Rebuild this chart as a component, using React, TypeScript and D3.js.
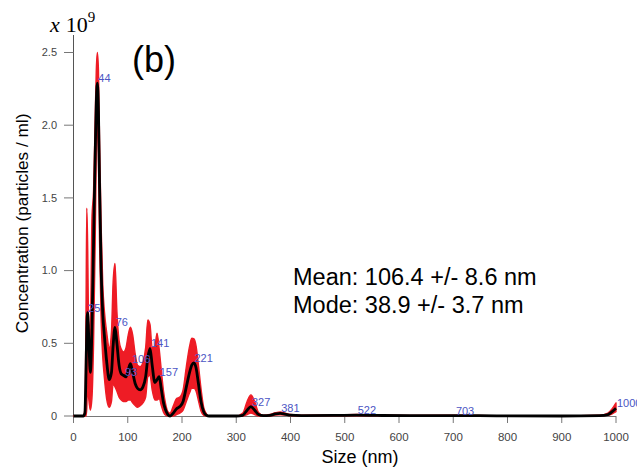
import React from "react";
import * as d3 from "d3";

const sizes = [0, 18, 21, 23, 24.5, 26, 28, 31, 34, 37, 40, 42, 44, 46, 48, 51, 54, 57, 61, 66, 70, 73, 76.5, 80, 84, 88, 92, 96.8, 101, 105, 109, 114, 118, 123, 128, 133, 137, 141, 145, 150, 154, 158, 162, 166, 170, 174, 178, 184, 190, 196, 202, 208, 214, 218, 222, 226, 230, 235, 240, 245, 250, 300, 312, 320, 327, 334, 341, 350, 362, 372, 381, 390, 400, 420, 480, 522, 560, 620, 703, 780, 900, 970, 985, 993, 1000];

const meanValues = [0, 0, 0.02, 0.3, 0.6, 0.71, 0.55, 0.3, 0.6, 1.2, 1.8, 2.15, 2.29, 2.1, 1.6, 1.0, 0.7, 0.55, 0.38, 0.25, 0.3, 0.48, 0.61, 0.5, 0.35, 0.29, 0.28, 0.27, 0.32, 0.36, 0.3, 0.22, 0.19, 0.18, 0.2, 0.27, 0.4, 0.465, 0.35, 0.23, 0.25, 0.27, 0.18, 0.09, 0.04, 0.01, 0.0, 0.02, 0.05, 0.065, 0.1, 0.2, 0.3, 0.35, 0.365, 0.33, 0.23, 0.1, 0.03, 0.005, 0, 0, 0.005, 0.04, 0.065, 0.04, 0.01, 0.002, 0.005, 0.014, 0.018, 0.013, 0.006, 0.003, 0.004, 0.006, 0.004, 0.002, 0.003, 0.001, 0, 0.003, 0.01, 0.03, 0.053];

const upperValues = [0, 0, 0.05, 0.7, 1.43, 1.2, 0.65, 0.6, 1.36, 1.55, 2.05, 2.38, 2.5, 2.38, 1.9, 1.3, 0.9, 0.72, 0.58, 0.47, 0.58, 0.92, 1.05, 0.72, 0.52, 0.46, 0.44, 0.47, 0.56, 0.61, 0.56, 0.42, 0.35, 0.34, 0.37, 0.47, 0.66, 0.63, 0.47, 0.48, 0.57, 0.46, 0.31, 0.17, 0.08, 0.03, 0.02, 0.07, 0.12, 0.13, 0.18, 0.34, 0.48, 0.535, 0.53, 0.48, 0.36, 0.19, 0.06, 0.015, 0, 0, 0.02, 0.1, 0.145, 0.1, 0.025, 0.005, 0.01, 0.022, 0.028, 0.02, 0.01, 0.005, 0.007, 0.01, 0.007, 0.004, 0.005, 0.002, 0.001, 0.005, 0.02, 0.05, 0.09];

const lowerValues = [0, 0, 0, 0, 0.05, 0.22, 0.12, 0.04, 0.12, 0.5, 1.2, 1.8, 2.05, 1.75, 1.2, 0.65, 0.4, 0.26, 0.12, 0.06, 0.1, 0.22, 0.2, 0.17, 0.13, 0.11, 0.1, 0.1, 0.11, 0.11, 0.09, 0.07, 0.06, 0.07, 0.09, 0.13, 0.27, 0.28, 0.18, 0.11, 0.11, 0.12, 0.07, 0.025, 0.005, 0, 0, 0, 0.01, 0.02, 0.04, 0.1, 0.16, 0.19, 0.19, 0.17, 0.11, 0.035, 0.005, 0, 0, 0, 0, 0.01, 0.02, 0.01, 0, 0, 0, 0.006, 0.008, 0.006, 0.002, 0.001, 0.001, 0.002, 0.001, 0, 0.001, 0, 0, 0.001, 0.004, 0.015, 0.03];

const peakSizes = [25, 44, 76, 93, 106, 141, 157, 221, 327, 381, 522, 703, 1000];
const peakValues = [0.71, 2.29, 0.61, 0.27, 0.36, 0.465, 0.27, 0.365, 0.065, 0.018, 0.006, 0.003, 0.053];
const peakLabels = ["25", "44", "76", "93", "106", "141", "157", "221", "327", "381", "522", "703", "1000"];

const xTicks = [0, 100, 200, 300, 400, 500, 600, 700, 800, 900, 1000];
const yTicks = [0, 0.5, 1.0, 1.5, 2.0, 2.5];
const yTickLabels = ["0", "0.5", "1.0", "1.5", "2.0", "2.5"];

const statLines = ["Mean: 106.4 +/- 8.6 nm", "Mode: 38.9 +/- 3.7 nm"];

const FONT = "'Liberation Sans', Arial, sans-serif";

export default function App() {
  const W = 637;
  const H = 473;
  const x = d3.scaleLinear().domain([0, 1000]).range([73.5, 616]);
  const y = d3.scaleLinear().domain([0, 2.5]).range([416, 52.5]);

  const idx = sizes.map((_, i) => i);
  const area = d3
    .area<number>()
    .x((i) => x(sizes[i]))
    .y0((i) => y(lowerValues[i]))
    .y1((i) => y(upperValues[i]))
    .curve(d3.curveMonotoneX);
  const line = d3
    .line<number>()
    .x((i) => x(sizes[i]))
    .y((i) => y(meanValues[i]))
    .curve(d3.curveMonotoneX);

  return (
    <svg
      width={W}
      height={H}
      style={{ position: "absolute", left: 0, top: 0, background: "#fff" }}
    >
      {/* multiplier */}
      <text x={50} y={32} fontFamily="'Liberation Serif', 'DejaVu Serif', serif" fontSize={22} fill="#000">
        <tspan fontStyle="italic">x</tspan>
        <tspan dx={6}>10</tspan>
        <tspan dy={-10} fontSize={15}>9</tspan>
      </text>
      <text x={132} y={72} fontFamily={FONT} fontSize={36} fill="#000">
        (b)
      </text>

      {/* y axis */}
      <line x1={73.5} x2={73.5} y1={35} y2={420} stroke="#555" strokeWidth={1} />
      {yTicks.map((t, i) => (
        <g key={"yt" + i}>
          <line x1={64} x2={73.5} y1={y(t)} y2={y(t)} stroke="#777" strokeWidth={1} />
          <text
            x={57}
            y={y(t)}
            dy="0.35em"
            textAnchor="end"
            fontFamily={FONT}
            fontSize={11}
            fill="#444"
          >
            {yTickLabels[i]}
          </text>
        </g>
      ))}

      {/* x axis */}
      <line x1={73.5} x2={616} y1={416.5} y2={416.5} stroke="#777" strokeWidth={1} />
      {xTicks.map((t, i) => (
        <g key={"xt" + i}>
          <line x1={x(t)} x2={x(t)} y1={416} y2={423} stroke="#777" strokeWidth={1} />
          <text
            x={x(t)}
            y={441}
            textAnchor="middle"
            fontFamily={FONT}
            fontSize={11.5}
            fill="#444"
          >
            {t}
          </text>
        </g>
      ))}

      {/* band and mean */}
      <path d={area(idx) || ""} fill="#ee1c25" stroke="#ee1c25" strokeWidth={1.4} strokeLinejoin="round" />
      <path d={line(idx) || ""} fill="none" stroke="#000" strokeWidth={2.8} strokeLinejoin="round" />

      {/* peak labels */}
      {peakSizes.map((p, i) => (
        <text
          key={"pk" + i}
          x={x(p) + 1}
          y={y(peakValues[i]) - 1}
          fontFamily={FONT}
          fontSize={11}
          fill="#4b55c4"
        >
          {peakLabels[i]}
        </text>
      ))}

      {/* stats */}
      {statLines.map((s, i) => (
        <text key={"st" + i} x={293} y={285 + i * 28} fontFamily={FONT} fontSize={23.5} fill="#000">
          {s}
        </text>
      ))}

      {/* axis titles */}
      <text x={360} y={463} textAnchor="middle" fontFamily={FONT} fontSize={18} fill="#000">
        Size (nm)
      </text>
      <text
        transform="translate(28,223.5) rotate(-90)"
        textAnchor="middle"
        fontFamily={FONT}
        fontSize={17.2}
        fill="#000"
      >
        Concentration (particles / ml)
      </text>
    </svg>
  );
}
